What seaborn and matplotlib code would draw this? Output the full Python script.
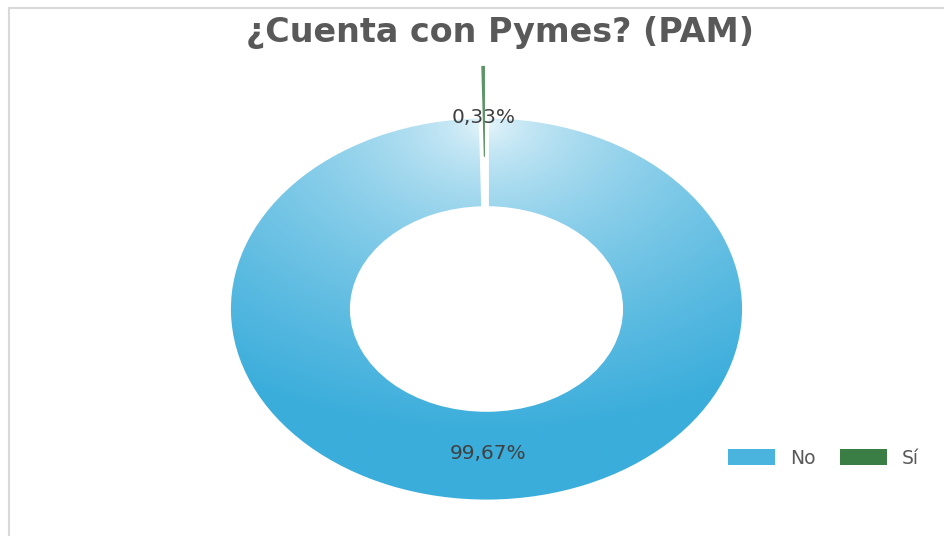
import numpy as np
import matplotlib.pyplot as plt
import seaborn as sns
from matplotlib.patches import Rectangle
from matplotlib.colors import to_rgb

categories = ["No", "Sí"]
shares = [99.67, 0.33]
pct_labels = ["99,67%", "0,33%"]

sns.set_theme(style="white")
plt.rcParams['font.family'] = ['DejaVu Sans']

fig = plt.figure(figsize=(9.45, 5.36), dpi=100)
ax = fig.add_axes([0.1326, -0.0806, 0.7644, 1.0082])

colors = ["#4ab3de", "#5c9466"]
wedges, _ = ax.pie(shares, startangle=90, counterclock=False, explode=[0, 0.264],
                   colors=colors, radius=1,
                   wedgeprops=dict(width=0.48, edgecolor='white', linewidth=3.5))
wedges[1].set_linewidth(1.2)

leg = fig.legend(wedges, categories, loc='center left', bbox_to_anchor=(728 / 945, 1 - 458 / 536),
                 ncol=2, frameon=False, fontsize=13.5, handlelength=2.5, handleheight=1.0,
                 handletextpad=0.8, columnspacing=1.33, borderpad=0, borderaxespad=0,
                 labelcolor='#595959')
leg.legend_handles[0].set_facecolor("#4ab3de")
leg.legend_handles[1].set_facecolor("#3a7d45")
for h in leg.legend_handles:
    h.set_linewidth(0)

# radial gradient over the "No" ring, white outline kept on top
xs = np.linspace(-1.4, 1.4, 400)
X, Y = np.meshgrid(xs, xs)
t = np.clip(np.hypot(X * 0.9, Y - 0.95) / 1.6, 0, 1) ** 0.6
light = np.array(to_rgb("#eef8fc"))
dark = np.array(to_rgb("#3aaddb"))
img = light * (1 - t[..., None]) + dark * t[..., None]
im = ax.imshow(img, extent=[-1.4, 1.4, -1.4, 1.4], origin='lower', zorder=2)
im.set_clip_path(wedges[0])
wedges[0].set_facecolor('none')
wedges[0].set_zorder(3)
wedges[1].set_zorder(4)

ax.set_xlim(-1.4, 1.4)
ax.set_ylim(-1.4, 1.4)
ax.set_aspect('auto')
ax.axis('off')

for w, lab in zip(wedges, pct_labels):
    ang = np.deg2rad((w.theta1 + w.theta2) / 2)
    cx, cy = w.center
    ax.text(cx + 0.74 * np.cos(ang), cy + 0.74 * np.sin(ang), lab, ha='center',
            va='center_baseline', fontsize=14.5, color='#404040', zorder=5)

fig.text(0.5286, 0.940, "¿Cuenta con Pymes? (PAM)", ha='center', va='center',
         fontsize=24, fontweight='bold', color='#595959')

fig.add_artist(Rectangle((9 / 945, -0.1), 1.1, 0.985 + 0.1, transform=fig.transFigure,
                         fill=False, edgecolor='#d9d9d9', lw=1.5))

fig.savefig("out.png", dpi=100, facecolor='white')
